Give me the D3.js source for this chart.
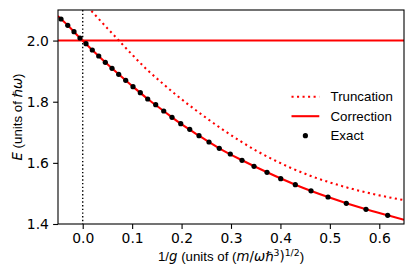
<!DOCTYPE html>
<html><head><meta charset="utf-8">
<script src="https://cdn.jsdelivr.net/npm/d3@7"></script>
<style>
html,body{margin:0;padding:0;background:#fff;}
svg{display:block;font-family:"DejaVu Sans",sans-serif;}
</style></head>
<body>
<svg id="c" width="415" height="277"></svg>
<script>
// ---- data ----
const exactX = [-0.0439,-0.0303,-0.0176,-0.0055,0.0067,0.0194,0.0324,0.0457,0.0593,0.0728,0.0870,0.1018,0.1165,0.1315,0.1477,0.1639,0.1807,0.1983,0.2165,0.2353,0.2555,0.2763,0.2986,0.3223,0.3466,0.3729,0.4006,0.4301,0.4619,0.4963,0.5333,0.5731,0.6170];
const exactE = [2.0706,2.0500,2.0290,2.0084,1.9898,1.9692,1.9495,1.9289,1.9093,1.8897,1.8701,1.8491,1.8295,1.8089,1.7902,1.7696,1.7490,1.7281,1.7098,1.6888,1.6682,1.6476,1.6290,1.6084,1.5888,1.5691,1.5482,1.5286,1.5086,1.4883,1.4677,1.4481,1.4285];
const corrX = [-0.05,-0.0303,-0.0055,0.0194,0.0457,0.0728,0.1018,0.1315,0.1639,0.1983,0.2353,0.2763,0.3223,0.3729,0.4301,0.4963,0.5731,0.6170,0.65];
const corrE = [2.080,2.050,2.0084,1.9692,1.9289,1.8897,1.8491,1.8089,1.7696,1.7281,1.6888,1.6476,1.6084,1.5691,1.5286,1.4883,1.4481,1.4285,1.4137];
const truncX = [0.010,0.030,0.050,0.072,0.100,0.130,0.160,0.190,0.220,0.250,0.284,0.318,0.352,0.385,0.419,0.460,0.500,0.540,0.580,0.620,0.651];
const truncE = [2.110,2.075,2.040,2.002,1.954,1.905,1.862,1.821,1.783,1.747,1.708,1.672,1.639,1.611,1.585,1.558,1.536,1.517,1.501,1.487,1.478];
const levelE = 2.0;
const xTicks = [0.0,0.1,0.2,0.3,0.4,0.5,0.6];
const yTicks = [1.4,1.6,1.8,2.0];
const legendLabels = ["Truncation","Correction","Exact"];

// ---- layout ----
const L=58, R=404, T=10, B=224;
const FS=13.9, LFS=13.3;
const SANS="Liberation Sans", MATH="DejaVu Sans";
const svg=d3.select("#c");
const x=d3.scaleLinear().domain([-0.05,0.65]).range([L,R]);
const y=d3.scaleLinear().domain([1.4,2.1]).range([B,T]);

svg.append("defs").append("clipPath").attr("id","clip")
  .append("rect").attr("x",L).attr("y",T).attr("width",R-L).attr("height",B-T);
const g=svg.append("g").attr("clip-path","url(#clip)");

g.append("line").attr("x1",x(0)).attr("x2",x(0)).attr("y1",T).attr("y2",B)
 .attr("stroke","#000").attr("stroke-width",1.39).attr("stroke-dasharray","1.39,2.29");
g.append("line").attr("x1",L).attr("x2",R).attr("y1",y(levelE)).attr("y2",y(levelE))
 .attr("stroke","#ff0000").attr("stroke-width",2.08);

const line=d3.line().x(d=>x(d[0])).y(d=>y(d[1])).curve(d3.curveMonotoneX);
g.append("path").datum(truncX.map((v,i)=>[v,truncE[i]])).attr("d",line)
 .attr("fill","none").attr("stroke","#ff0000").attr("stroke-width",2.08).attr("stroke-dasharray","2.08,3.44");
g.append("path").datum(corrX.map((v,i)=>[v,corrE[i]])).attr("d",line)
 .attr("fill","none").attr("stroke","#ff0000").attr("stroke-width",2.08);
g.selectAll("circle.ex").data(exactX.map((v,i)=>[v,exactE[i]])).enter().append("circle")
 .attr("cx",d=>x(d[0])).attr("cy",d=>y(d[1])).attr("r",2.6).attr("fill","#000");

const xa=svg.append("g").attr("transform",`translate(0,${B})`)
 .call(d3.axisBottom(x).tickValues(xTicks).tickFormat(d3.format(".1f")).tickSize(4.9).tickPadding(4.2));
const ya=svg.append("g").attr("transform",`translate(${L},0)`)
 .call(d3.axisLeft(y).tickValues(yTicks).tickFormat(d3.format(".1f")).tickSize(4.9).tickPadding(4.2));
[xa,ya].forEach(a=>{
  a.select(".domain").remove();
  a.selectAll("line").attr("stroke","#000").attr("stroke-width",1.1);
  a.selectAll("text").attr("font-size",FS).attr("font-family","DejaVu Sans").attr("fill","#000");
});
svg.append("rect").attr("x",L).attr("y",T).attr("width",R-L).attr("height",B-T)
 .attr("fill","none").attr("stroke","#000").attr("stroke-width",1.1);

// x label
const xl=svg.append("text").attr("x",(L+R)/2).attr("y",261).attr("text-anchor","middle")
 .attr("font-size",LFS).attr("font-family",SANS).attr("fill","#000");
xl.append("tspan").text("1/");
xl.append("tspan").attr("font-family",MATH).attr("font-style","italic").text("g");
xl.append("tspan").text(" (units of (");
xl.append("tspan").attr("font-family",MATH).attr("font-style","italic").text("m");
xl.append("tspan").attr("font-family",MATH).text("/");
xl.append("tspan").attr("font-family",MATH).attr("font-style","italic").text("ωℏ");
xl.append("tspan").attr("font-family",MATH).attr("font-size",LFS*0.7).attr("dy",-5).text("3");
xl.append("tspan").attr("font-family",MATH).attr("dy",5).text(")");
xl.append("tspan").attr("font-family",MATH).attr("font-size",LFS*0.7).attr("dy",-5).text("1/2");
xl.append("tspan").attr("dy",5).text(")");

// y label
const yl=svg.append("text").attr("transform",`translate(22,${(T+B)/2}) rotate(-90)`)
 .attr("text-anchor","middle").attr("font-size",LFS).attr("font-family",SANS).attr("fill","#000");
yl.append("tspan").attr("font-family",MATH).attr("font-style","italic").text("E");
yl.append("tspan").text(" (units of ");
yl.append("tspan").attr("font-family",MATH).attr("font-style","italic").text("ℏω");
yl.append("tspan").text(")");

// legend
const lg=svg.append("g");
const rowsY=[96.7,116.2,135.7];
lg.append("line").attr("x1",291.5).attr("x2",319.3).attr("y1",rowsY[0]).attr("y2",rowsY[0])
 .attr("stroke","#ff0000").attr("stroke-width",2.08).attr("stroke-dasharray","2.08,3.44");
lg.append("line").attr("x1",291.5).attr("x2",319.3).attr("y1",rowsY[1]).attr("y2",rowsY[1])
 .attr("stroke","#ff0000").attr("stroke-width",2.08);
lg.append("circle").attr("cx",305.4).attr("cy",rowsY[2]).attr("r",2.6).attr("fill","#000");
legendLabels.forEach((t,i)=>{
  lg.append("text").attr("x",330.5).attr("y",rowsY[i]).attr("dy","0.36em")
    .attr("font-size",LFS).attr("font-family",SANS).attr("fill","#000").text(t);
});
</script>
</body></html>
